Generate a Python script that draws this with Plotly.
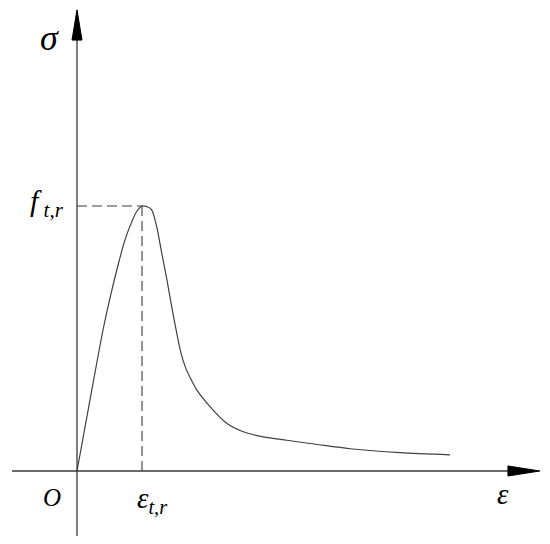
import plotly.graph_objects as go

# curve (strain normalised to the peak strain, stress to the peak stress)
strain = [0, 0.20, 0.40, 0.50, 0.635, 0.738, 0.842, 0.918, 1.0, 1.08, 1.149, 1.226,
          1.303, 1.38, 1.457, 1.534, 1.60, 1.67, 1.75, 1.842, 2.046, 2.303, 2.558, 2.866,
          3.226, 3.70, 4.20, 4.97, 5.74]
stress = [0, 0.268, 0.532, 0.645, 0.78, 0.872, 0.94, 0.979, 1.0, 0.997, 0.985, 0.922,
          0.823, 0.726, 0.62, 0.521, 0.445, 0.39, 0.348, 0.306, 0.243, 0.180, 0.148, 0.129,
          0.116, 0.100, 0.084, 0.069, 0.061]

peak_i = stress.index(max(stress))
eps_peak = strain[peak_i]
sig_peak = stress[peak_i]

AXIS_COLOR = '#3a3a3a'
CURVE_COLOR = '#404040'
FONT = 'Liberation Serif'

# the page body keeps an 8px margin, so the figure is drawn 8px smaller
X_RANGE = [-1.0615, 7.277]
Y_RANGE = [-0.2755, 1.747]

fig = go.Figure()

fig.add_trace(go.Scatter(
    x=strain, y=stress,
    mode='lines',
    line=dict(color=CURVE_COLOR, width=1.2, shape='spline', smoothing=0.8),
    hoverinfo='skip',
    showlegend=False
))

shapes = [
    # axes
    dict(type='line', x0=-1.0, y0=0, x1=6.7, y1=0,
         line=dict(color=AXIS_COLOR, width=1.3)),
    dict(type='line', x0=0, y0=-0.245, x1=0, y1=1.66,
         line=dict(color=AXIS_COLOR, width=1.3)),
    # arrow heads
    dict(type='path', path='M 7.12,0 L 6.63,0.019 L 6.63,-0.019 Z',
         fillcolor='black', line=dict(color='black', width=1)),
    dict(type='path', path='M 0,1.74 L -0.077,1.626 L 0.077,1.626 Z',
         fillcolor='black', line=dict(color='black', width=1)),
    # dashed guides to the peak
    dict(type='line', x0=0, y0=sig_peak, x1=eps_peak, y1=sig_peak,
         line=dict(color=AXIS_COLOR, width=1.1, dash='10px,5px')),
    dict(type='line', x0=eps_peak, y0=0, x1=eps_peak, y1=sig_peak,
         line=dict(color=AXIS_COLOR, width=1.1, dash='10px,5px')),
]

labels = [
    dict(x=-0.42, y=1.635, text='σ', size=36),
    dict(x=-0.46, y=sig_peak + 0.012, text='f<sub> t,r</sub>', size=30),
    dict(x=-0.38, y=-0.10, text='O', size=25),
    dict(x=eps_peak + 0.16, y=-0.11, text='ε<sub>t,r</sub>', size=29),
    dict(x=6.55, y=-0.085, text='ε', size=29),
]

annotations = [
    dict(x=l['x'], y=l['y'], text=l['text'], showarrow=False,
         xref='x', yref='y',
         font=dict(family=FONT, size=l['size'], color='black', style='italic'))
    for l in labels
]

fig.update_layout(
    width=542, height=536,
    margin=dict(l=0, r=0, t=0, b=0),
    paper_bgcolor='white', plot_bgcolor='white',
    xaxis=dict(range=X_RANGE, visible=False, fixedrange=True),
    yaxis=dict(range=Y_RANGE, visible=False, fixedrange=True),
    shapes=shapes,
    annotations=annotations,
)

fig.write_html("out.html")
